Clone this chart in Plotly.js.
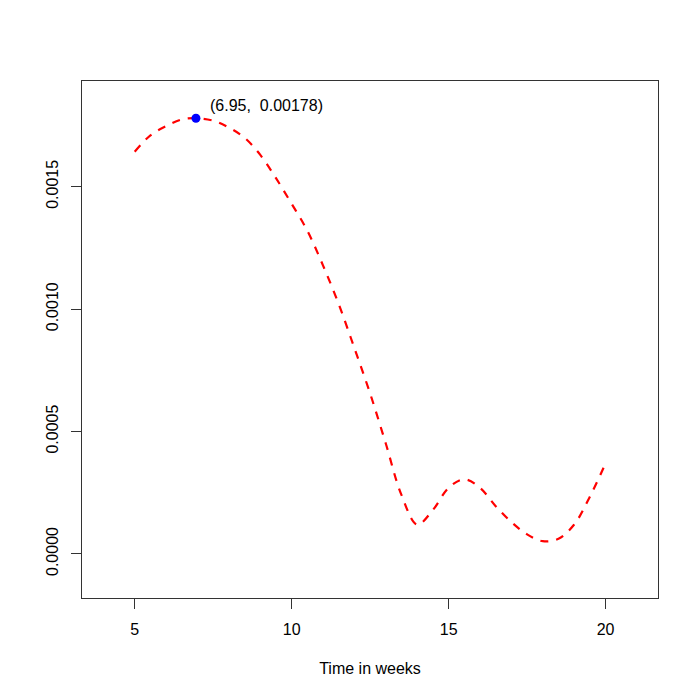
<!DOCTYPE html>
<html>
<head>
<meta charset="utf-8">
<script src="https://cdn.plot.ly/plotly-3.0.1.min.js"></script>
<style>
  html, body { margin: 0; padding: 0; background: #fff; }
  #chart { width: 700px; height: 700px; }
</style>
</head>
<body>
<div id="chart"></div>
<script>
// density curve
const weeks = [5, 5.5, 6, 6.5, 6.95, 7.5, 8, 8.5, 9, 9.5, 10, 10.5, 11, 11.5, 12, 12.5,
               13, 13.5, 14, 14.5, 15, 15.5, 16, 16.5, 17, 17.5, 18, 18.5, 19, 19.5, 20];
const density = [0.001643, 0.00171, 0.001748, 0.001775, 0.00178, 0.00177, 0.001742, 0.0017,
                 0.00163, 0.001535, 0.00143, 0.00132, 0.001178, 0.00102, 0.00084, 0.000655,
                 0.00045, 0.00024, 0.00012, 0.00018, 0.00027, 0.000305, 0.00027, 0.000195,
                 0.00013, 0.00008, 0.000052, 0.000062, 0.00012, 0.000234, 0.00037];

// highlighted maximum
const peakX = [6.95];
const peakY = [0.00178];
const peakLabel = '(6.95,  0.00178)';

const xTicks = [5, 10, 15, 20];
const yTicks = [0, 0.0005, 0.001, 0.0015];

const font = { family: 'Liberation Sans, Arial, sans-serif', size: 16, color: '#000' };

const traces = [
    {
        x: weeks,
        y: density,
        type: 'scatter',
        mode: 'lines',
        line: { color: '#ff0000', width: 2.2, dash: '8px,8px', shape: 'spline', smoothing: 1 },
        hoverinfo: 'skip'
    },
    {
        x: peakX,
        y: peakY,
        type: 'scatter',
        mode: 'markers',
        marker: { color: '#0000ff', size: 9 },
        hoverinfo: 'skip'
    }
];

const layout = {
    width: 700,
    height: 700,
    showlegend: false,
    paper_bgcolor: '#fff',
    plot_bgcolor: '#fff',
    font: font,
    margin: { l: 82, r: 42, t: 81, b: 102 },
    xaxis: {
        range: [3.32, 21.67],
        tickvals: xTicks,
        ticktext: xTicks.map(String),
        ticks: 'outside',
        ticklen: 10,
        tickcolor: '#333',
        ticklabelstandoff: 7,
        showgrid: false,
        zeroline: false,
        showline: true,
        mirror: true,
        linecolor: '#333',
        linewidth: 1,
        tickfont: font,
        title: { text: 'Time in weeks', font: font, standoff: 25 }
    },
    yaxis: {
        range: [-0.00018, 0.001932],
        tickvals: yTicks,
        ticktext: yTicks.map(v => v.toFixed(4)),
        tickangle: -90,
        ticks: 'outside',
        ticklen: 10,
        tickcolor: '#333',
        ticklabelstandoff: 7,
        showgrid: false,
        zeroline: false,
        showline: true,
        mirror: true,
        linecolor: '#333',
        linewidth: 1,
        tickfont: font
    },
    annotations: [{
        x: peakX[0],
        y: peakY[0],
        text: peakLabel,
        showarrow: false,
        xanchor: 'left',
        yanchor: 'middle',
        xshift: 12,
        yshift: 13,
        font: font
    }]
};

Plotly.newPlot('chart', traces, layout, { staticPlot: true });
</script>
</body>
</html>
